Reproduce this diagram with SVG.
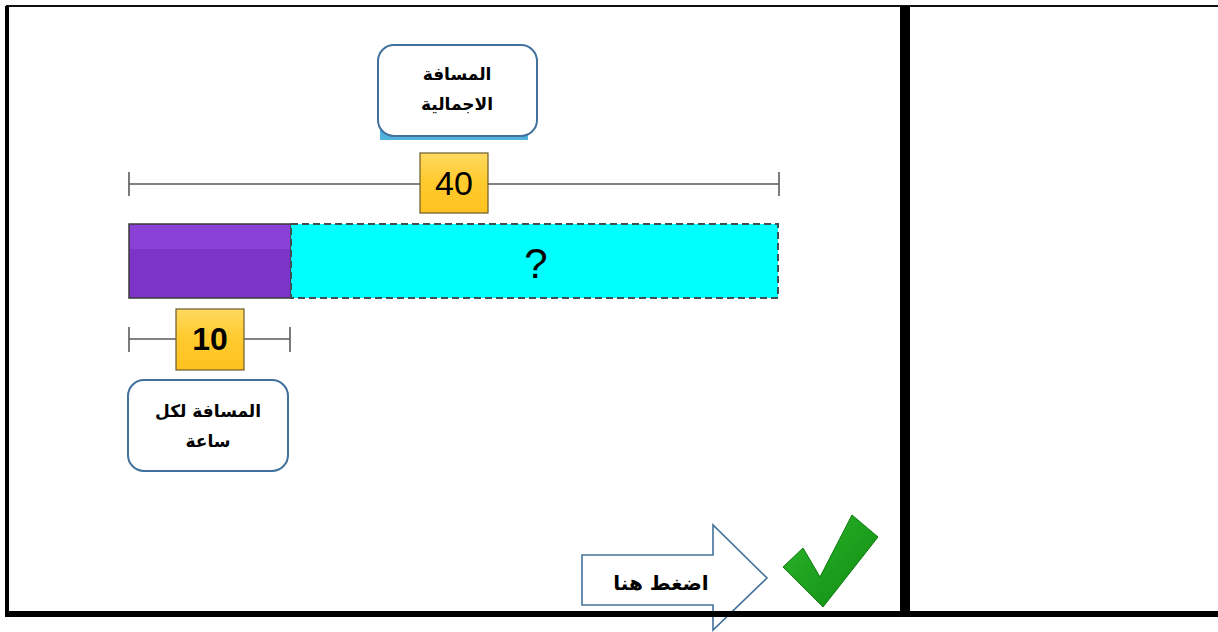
<svg xmlns="http://www.w3.org/2000/svg" width="1218" height="632" viewBox="0 0 1218 632">
<style>
.lbl{font-family:"DejaVu Sans","Noto Sans",sans-serif;font-weight:bold;font-size:17px;fill:#000;text-anchor:middle;direction:rtl}
.num{font-family:"Liberation Sans",Arial,sans-serif;fill:#000;text-anchor:middle}
.callout{fill:#fff;stroke:#41719c;stroke-width:2}
.scale{stroke:#5a5a5a;stroke-width:1.6;fill:none}
.valbox{fill:url(#gold);stroke:#6b5a2a;stroke-width:1.2}
</style>
<defs>
<linearGradient id="gold" x1="0" y1="0" x2="0" y2="1">
<stop offset="0" stop-color="#ffd960"/>
<stop offset="0.45" stop-color="#ffcb30"/>
<stop offset="1" stop-color="#ffc21f"/>
</linearGradient>
<linearGradient id="green" x1="0" y1="0" x2="1" y2="1">
<stop offset="0" stop-color="#2db82d"/>
<stop offset="1" stop-color="#0f8a0f"/>
</linearGradient>
</defs>
<rect x="0" y="0" width="1218" height="632" fill="#fff"/>

<g id="total-label">
<rect x="380" y="126" width="148" height="14" fill="#4fb3dd"/>
<rect x="378" y="45" width="159" height="91" rx="16" class="callout"/>
<text x="457" y="80" class="lbl">المسافة</text>
<text x="457" y="110" class="lbl">الاجمالية</text>
</g>

<g id="total-scale">
<path class="scale" d="M129,184 H779 M129,172 V196 M779,172 V196"/>
<rect x="420" y="153" width="68" height="60" class="valbox"/>
<text x="454" y="195" class="num" font-size="34">40</text>
</g>

<g id="bar">
<rect x="129" y="224" width="162" height="74" fill="#7c33c8"/>
<rect x="129" y="224" width="162" height="25" fill="#8b40d8"/>
<rect x="129" y="224" width="162" height="74" fill="none" stroke="#3a3a3a" stroke-width="1.5"/>
<rect x="291" y="224" width="487" height="74" fill="#00ffff" stroke="#3d4f4f" stroke-width="2" stroke-dasharray="7,4"/>
<text x="536" y="278" class="num" font-size="42">?</text>
</g>

<g id="hour-scale">
<path class="scale" d="M129,339 H290 M129,327 V352 M290,327 V352"/>
<rect x="176" y="309" width="68" height="61" class="valbox"/>
<text x="210" y="350" class="num" font-size="32" font-weight="bold">10</text>
</g>

<g id="hour-label">
<rect x="128" y="380" width="160" height="91" rx="16" class="callout"/>
<text x="208" y="417" class="lbl">المسافة لكل</text>
<text x="208" y="447" class="lbl">ساعة</text>
</g>

<g id="click-arrow">
<path d="M582,555 H713 V525 L767,578 L713,630 V605 H582 Z" fill="#fff" stroke="#41719c" stroke-width="1.6"/>
<text x="661" y="590" class="lbl" style="font-size:20px">اضغط هنا</text>
</g>

<g id="check">
<path d="M783,567 L803,548 L820,577 L852,515 L878,537 L823,607 Z" fill="url(#green)" stroke="#0d7a0d" stroke-width="1"/>
</g>

<g id="frame">
<line x1="6" y1="6" x2="1218" y2="6" stroke="#111" stroke-width="2"/>
<rect x="5" y="6" width="4" height="608" fill="#000"/>
<rect x="900" y="6" width="10" height="608" fill="#000"/>
<rect x="5" y="611" width="1213" height="6" fill="#000"/>
</g>
</svg>
